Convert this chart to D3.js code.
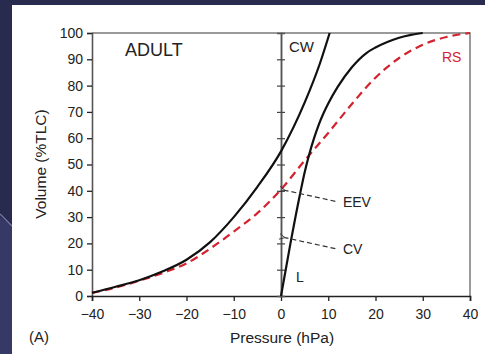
<!DOCTYPE html>
<html><head><meta charset="utf-8">
<script src="https://cdn.jsdelivr.net/npm/d3@7"></script>
<style>
html,body{margin:0;padding:0;background:#2a2c50;}
svg{display:block;font-family:"Liberation Sans",Arial,sans-serif;}
</style></head>
<body>
<script>
// ---- data ----
const xTicks = [-40,-30,-20,-10,0,10,20,30,40];
const yTicks = [0,10,20,30,40,50,60,70,80,90,100];
// chest wall (CW): [pressure, volume]
const cwPressure = [-40,-35,-30,-25,-20,-15,-10,-5,0,5,8.25,10.3];
const cwVolume   = [1.2,3.5,6,9.4,13.8,20.5,30,41.5,55,73.5,88.5,100];
// respiratory system (RS)
const rsPressure = [-40,-35,-30,-25,-20,-15,-10,-5,0,5,10,15,20,25,30,35,40];
const rsVolume   = [1.2,3.2,5.8,8.8,12.4,18,24.5,31.5,40.5,51.5,62,73,83,90.5,95.5,98.5,100];
// lung (L)
const lPressure = [0,2,4,5,6,7,8,9,10,12,15,18,20,22.5,25,27.5,30];
const lVolume   = [0,20,38.5,47,54,60,65.2,69.5,73.2,79.5,87,92.3,94.5,96.6,98.2,99.3,100];
// annotations: label, target volume on the pressure=0 axis
const annLabels = ["EEV","CV"];
const annVolumes = [40,22];

const W=485,H=354;
const svg=d3.select("body").append("svg").attr("width",W).attr("height",H);

// background decoration
svg.append("rect").attr("width",W).attr("height",H).attr("fill","#282a4e");
svg.append("path").attr("d","M0,217 L12,226 L12,354 L0,354 Z").attr("fill","#363866");
svg.append("line").attr("x1",0).attr("y1",214).attr("x2",12).attr("y2",226).attr("stroke","#7a7ca8").attr("stroke-width",1.2);
svg.append("rect").attr("x",12).attr("y",5).attr("width",W-12).attr("height",H-5).attr("fill","#ffffff");

const x=d3.scaleLinear().domain([-40,40]).range([92,470]);
const y=d3.scaleLinear().domain([0,100]).range([296,33]);

// frame top & right
svg.append("path").attr("d",`M${x(-40)},${y(100)}H${x(40)}V${y(0)}`).attr("fill","none").attr("stroke","#7a7a7a").attr("stroke-width",1.5);

// left axis
const ga=svg.append("g").attr("transform",`translate(${x(-40)},0)`)
  .call(d3.axisLeft(y).tickValues(yTicks).tickSize(5).tickPadding(4));
// bottom axis
const gb=svg.append("g").attr("transform",`translate(0,${y(0)})`)
  .call(d3.axisBottom(x).tickValues(xTicks).tickSize(5).tickPadding(8));
[ga,gb].forEach(g=>{
  g.select(".domain").attr("stroke","#222").attr("stroke-width",1.6);
  g.selectAll(".tick line").attr("stroke","#222").attr("stroke-width",1.3);
  g.selectAll("text").attr("font-size",14).attr("fill","#222").attr("font-family","Liberation Sans, Arial, sans-serif");
});
ga.select(".domain").attr("stroke","#555");
// zero pressure axis with crossing ticks
const yInner=yTicks.filter(v=>v>0&&v<100);
[d3.axisLeft,d3.axisRight].forEach(ax=>{
  const g=svg.append("g").attr("transform",`translate(${x(0)},0)`)
    .call(ax(y).tickValues(yInner).tickSize(4).tickFormat(""));
  g.select(".domain").attr("stroke","#555").attr("stroke-width",1.5);
  g.selectAll(".tick line").attr("stroke","#444").attr("stroke-width",1.2);
});

const line=d3.line().x(d=>x(d[0])).y(d=>y(d[1])).curve(d3.curveMonotoneX);
const zip=(a,b)=>a.map((v,i)=>[v,b[i]]);

svg.append("path").datum(zip(rsPressure,rsVolume)).attr("d",line)
  .attr("fill","none").attr("stroke","#d2232f").attr("stroke-width",2.2).attr("stroke-dasharray","8,5");
svg.append("path").datum(zip(cwPressure,cwVolume)).attr("d",line)
  .attr("fill","none").attr("stroke","#111").attr("stroke-width",2.2);
svg.append("path").datum(zip(lPressure,lVolume)).attr("d",line)
  .attr("fill","none").attr("stroke","#111").attr("stroke-width",2.2);

// annotation arrows
svg.append("defs").append("marker").attr("id","arr").attr("viewBox","-1 -5 10 10")
  .attr("refX",0).attr("refY",0).attr("markerWidth",8).attr("markerHeight",8)
  .attr("markerUnits","userSpaceOnUse").attr("orient","auto")
  .append("path").attr("d","M7,-3.5 L0,0 L7,3.5").attr("fill","none").attr("stroke","#333").attr("stroke-width",1.1);
annVolumes.forEach((v,i)=>{
  const x0=x(0)+4, y0=y(v)-0.5;
  const x1=x(11.5), y1=y(v)+10.5;
  svg.append("line").attr("x1",x1).attr("y1",y1).attr("x2",x0).attr("y2",y0)
    .attr("stroke","#333").attr("stroke-width",1.2).attr("stroke-dasharray","5,3")
    .attr("marker-end","url(#arr)");
  svg.append("text").attr("x",x(13.1)).attr("y",y(v)+16).attr("font-size",14).attr("fill","#222").text(annLabels[i]);
});

// labels
const txt=(t,xx,yy,fs,opt={})=>{
  const e=svg.append("text").attr("x",xx).attr("y",yy).attr("font-size",fs).attr("fill",opt.fill||"#222").text(t);
  if(opt.anchor) e.attr("text-anchor",opt.anchor);
  if(opt.rot) e.attr("transform",`rotate(-90,${xx},${yy})`);
  return e;
};
txt("ADULT",125,56,18);
txt("CW",289,52,15);
txt("RS",442,62,14,{fill:"#d2232f"});
txt("L",296,282,14);
txt("Pressure (hPa)",282,343,15.5,{anchor:"middle"});
txt("(A)",29,342,15);
txt("Volume (%TLC)",46,164,15.5,{anchor:"middle",rot:true});
</script>
</body></html>
